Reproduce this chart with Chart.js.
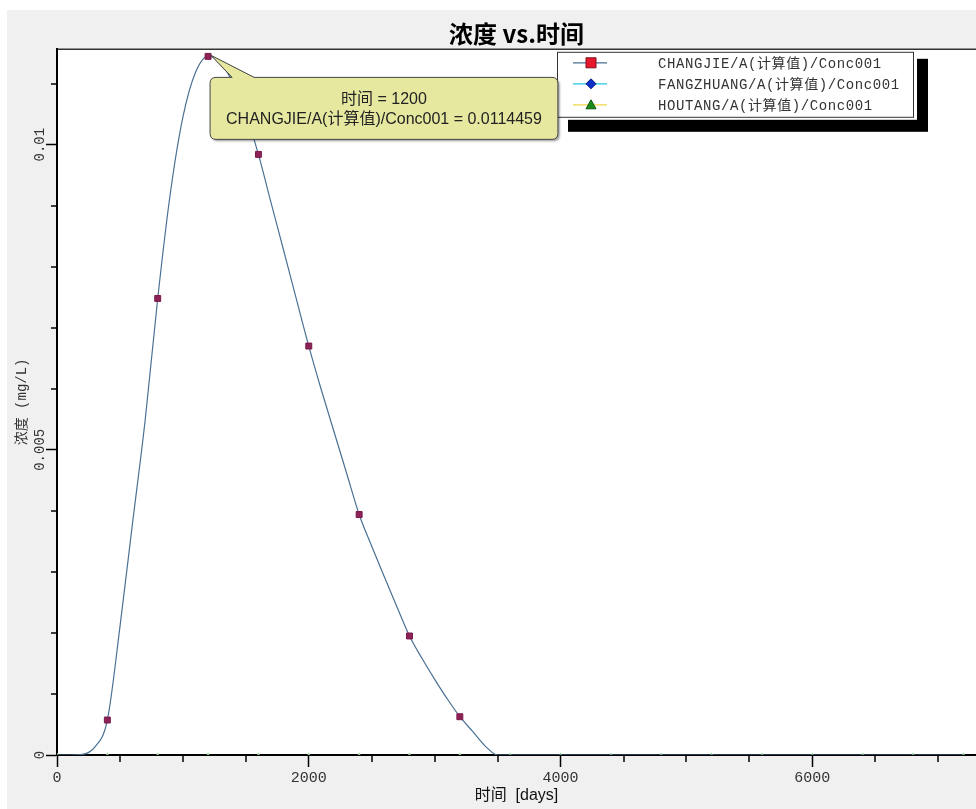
<!DOCTYPE html>
<html>
<head>
<meta charset="utf-8">
<title>浓度 vs.时间</title>
<script src="https://cdn.jsdelivr.net/npm/chart.js@4.4.1/dist/chart.umd.min.js"></script>
<style>
  html, body { margin: 0; padding: 0; background: #fff; overflow: hidden; }
  #wrap { position: absolute; left: 7px; top: 10px; width: 969px; height: 799px; background: #f0f0f0; }
</style>
</head>
<body>
<div id="wrap"><canvas id="chart" width="969" height="799"></canvas></div>
<script>
// CHANGJIE curve, days / mg/L
const changjieDays = [0, 100, 200, 300, 400, 500, 600, 700, 800, 900, 1000, 1100, 1200, 1300, 1400, 1500,
  1600, 1700, 1800, 1900, 2000, 2100, 2200, 2300, 2400, 2500, 2600, 2700, 2800, 2900, 3000, 3100,
  3200, 3300, 3400, 3500, 3600, 4000, 4400, 4800, 5200, 5600, 6000, 6400, 6800, 7200];
const changjieConc = [0, 0, 0.00001, 0.00013, 0.000573, 0.0021, 0.0038, 0.00548, 0.00748, 0.0092, 0.01045, 0.01118, 0.0114459, 0.01135, 0.0110, 0.0105,
  0.00984, 0.00905, 0.00827, 0.00748, 0.0067, 0.00598, 0.0053, 0.00462, 0.00394, 0.00342, 0.00292, 0.00243, 0.00195, 0.00158, 0.00124, 0.00092,
  0.000627, 0.00039, 0.00015, 0, 0, 0, 0, 0, 0, 0, 0, 0, 0, 0];

// the other two wells stay at zero
const otherDays = [0, 400, 800, 1200, 1600, 2000, 2400, 2800, 3200, 3600, 4000, 4400, 4800, 5200, 5600, 6000, 6400, 6800, 7200];
const fangzhuangConc = [0, 0, 0, 0, 0, 0, 0, 0, 0, 0, 0, 0, 0, 0, 0, 0, 0, 0, 0];
const houtangConc = [0, 0, 0, 0, 0, 0, 0, 0, 0, 0, 0, 0, 0, 0, 0, 0, 0, 0, 0];

const seriesNames = ['CHANGJIE/A(计算值)/Conc001', 'FANGZHUANG/A(计算值)/Conc001', 'HOUTANG/A(计算值)/Conc001'];

// axis ticks
const xMajorTicks = [0, 2000, 4000, 6000];
const xMinorTicks = [500, 1000, 1500, 2500, 3000, 3500, 4500, 5000, 5500, 6500, 7000];
const yMajorTicks = [0, 0.005, 0.01];
const yMinorTicks = [0.001, 0.002, 0.003, 0.004, 0.006, 0.007, 0.008, 0.009, 0.011];
const yTickLabels = ['0', '0.005', '0.01'];

// point shown in the callout (1200 days)
const calloutIndex = changjieDays.indexOf(1200);

const monoFont = '"Liberation Mono", "Noto Sans CJK SC", monospace';
const sansFont = '"Liberation Sans", "Noto Sans CJK SC", sans-serif';

// legend symbol styles
const legendStyles = [
  { line: '#4a7194', fill: '#e8182c', stroke: '#7a1020', shape: 'square' },
  { line: '#20c8e0', fill: '#1030c8', stroke: '#0a1c80', shape: 'diamond' },
  { line: '#f0d848', fill: '#1a8a1a', stroke: '#0f5a0f', shape: 'triangle' }
];

function drawSymbol(ctx, shape, cx, cy) {
  ctx.beginPath();
  if (shape === 'square') {
    ctx.rect(cx - 5, cy - 5, 10, 10);
  } else if (shape === 'diamond') {
    ctx.moveTo(cx, cy - 5); ctx.lineTo(cx + 5, cy); ctx.lineTo(cx, cy + 5); ctx.lineTo(cx - 5, cy); ctx.closePath();
  } else {
    ctx.moveTo(cx, cy - 5); ctx.lineTo(cx + 5, cy + 4); ctx.lineTo(cx - 5, cy + 4); ctx.closePath();
  }
  ctx.fill();
  ctx.stroke();
}

function drawLegend(chart) {
  const { ctx, chartArea: a } = chart;
  const left = a.left + 500, top = a.top + 3;
  ctx.fillStyle = '#000';
  ctx.fillRect(left + 11, top + 7, 360, 73);
  ctx.fillStyle = '#fff';
  ctx.fillRect(left, top, 360, 68);
  ctx.strokeStyle = '#333';
  ctx.lineWidth = 1;
  ctx.strokeRect(left + 0.5, top + 0.5, 356, 65);

  ctx.font = '14px ' + monoFont;
  ctx.letterSpacing = '0.6px';
  ctx.textAlign = 'left';
  ctx.textBaseline = 'middle';
  chart.data.datasets.forEach((ds, i) => {
    const st = legendStyles[i];
    const cy = top + 11 + i * 21;
    ctx.strokeStyle = st.line;
    ctx.lineWidth = 1.2;
    ctx.beginPath(); ctx.moveTo(left + 16, cy); ctx.lineTo(left + 50, cy); ctx.stroke();
    ctx.fillStyle = st.fill;
    ctx.strokeStyle = st.stroke;
    ctx.lineWidth = 1;
    drawSymbol(ctx, st.shape, left + 34, cy);
    ctx.fillStyle = '#333';
    ctx.fillText(ds.label, left + 101, cy + 1);
  });
  ctx.letterSpacing = '0px';
}

function drawCallout(chart) {
  const { ctx } = chart;
  const pt = chart.getDatasetMeta(0).data[calloutIndex];
  const px = pt.x, py = pt.y;
  const line1 = '时间 = ' + changjieDays[calloutIndex];
  const line2 = seriesNames[0] + ' = ' + changjieConc[calloutIndex];
  ctx.font = '16px ' + sansFont;
  const w = Math.max(ctx.measureText(line1).width, ctx.measureText(line2).width) + 32;
  const h = 62, r = 6;
  const bx = px + 2, by = py + 21;

  ctx.save();
  ctx.beginPath();
  ctx.moveTo(bx + r, by);
  ctx.lineTo(bx + 22, by);
  ctx.lineTo(px + 3, py - 1);
  ctx.lineTo(bx + 44, by);
  ctx.lineTo(bx + w - r, by);
  ctx.quadraticCurveTo(bx + w, by, bx + w, by + r);
  ctx.lineTo(bx + w, by + h - r);
  ctx.quadraticCurveTo(bx + w, by + h, bx + w - r, by + h);
  ctx.lineTo(bx + r, by + h);
  ctx.quadraticCurveTo(bx, by + h, bx, by + h - r);
  ctx.lineTo(bx, by + r);
  ctx.quadraticCurveTo(bx, by, bx + r, by);
  ctx.closePath();
  ctx.shadowColor = 'rgba(0,0,0,0.35)';
  ctx.shadowOffsetX = 2;
  ctx.shadowOffsetY = 2;
  ctx.shadowBlur = 2;
  ctx.fillStyle = '#e6e8a0';
  ctx.fill();
  ctx.shadowColor = 'transparent';
  ctx.strokeStyle = '#444';
  ctx.lineWidth = 1;
  ctx.stroke();
  ctx.restore();

  ctx.fillStyle = '#222';
  ctx.textAlign = 'center';
  ctx.textBaseline = 'middle';
  ctx.fillText(line1, bx + w / 2, by + 22);
  ctx.fillText(line2, bx + w / 2, by + 42);
}

const decorPlugin = {
  id: 'decor',
  beforeDraw(chart) {
    const { ctx, chartArea: a } = chart;
    ctx.save();
    ctx.fillStyle = '#fff';
    ctx.fillRect(a.left, a.top, a.right - a.left, a.bottom - a.top);
    ctx.strokeStyle = '#333';
    ctx.lineWidth = 1.5;
    ctx.beginPath(); ctx.moveTo(a.left, a.top + 0.5); ctx.lineTo(a.right, a.top + 0.5); ctx.stroke();
    ctx.restore();
  },
  afterDraw(chart) {
    const { ctx, chartArea: a, scales: { x, y } } = chart;
    ctx.save();
    // minor ticks
    ctx.strokeStyle = '#000';
    ctx.lineWidth = 1.5;
    ctx.beginPath();
    xMinorTicks.forEach(v => {
      const p = Math.round(x.getPixelForValue(v));
      ctx.moveTo(p, a.bottom); ctx.lineTo(p, a.bottom + 7);
    });
    yMinorTicks.forEach(v => {
      const p = Math.round(y.getPixelForValue(v));
      ctx.moveTo(a.left, p); ctx.lineTo(a.left - 6, p);
    });
    ctx.stroke();

    // rotated y tick labels
    ctx.fillStyle = '#333';
    ctx.font = '14px ' + monoFont;
    ctx.textAlign = 'center';
    ctx.textBaseline = 'middle';
    yMajorTicks.forEach((v, i) => {
      ctx.save();
      ctx.translate(a.left - 17, y.getPixelForValue(v));
      ctx.rotate(-Math.PI / 2);
      ctx.fillText(yTickLabels[i], 0, 0);
      ctx.restore();
    });

    drawLegend(chart);
    drawCallout(chart);
    ctx.restore();
  }
};

const ctx = document.getElementById('chart').getContext('2d');

new Chart(ctx, {
  type: 'line',
  data: {
    datasets: [
      {
        label: seriesNames[0],
        data: changjieDays.map((d, i) => ({ x: d, y: changjieConc[i] })),
        borderColor: '#4a7194',
        borderWidth: 1.2,
        cubicInterpolationMode: 'monotone',
        pointStyle: 'rect',
        pointRadius: c => (c.raw && c.raw.x % 400 === 0 && c.raw.y > 0) ? 4.2 : 0,
        pointBackgroundColor: '#8d2257',
        pointBorderColor: '#7a1a4c',
        pointBorderWidth: 1
      },
      {
        label: seriesNames[1],
        data: otherDays.map((d, i) => ({ x: d, y: fangzhuangConc[i] })),
        showLine: false,
        pointRadius: 0
      },
      {
        label: seriesNames[2],
        data: otherDays.map((d, i) => ({ x: d, y: houtangConc[i] })),
        showLine: false,
        pointStyle: 'triangle',
        pointRadius: 2.6,
        pointBackgroundColor: '#8fcf8f',
        pointBorderWidth: 0
      }
    ]
  },
  options: {
    responsive: false,
    devicePixelRatio: 1,
    animation: false,
    events: [],
    layout: { padding: 0, autoPadding: false },
    plugins: {
      legend: { display: false },
      tooltip: { enabled: false },
      title: {
        display: true,
        text: '浓度 vs.时间',
        fullSize: false,
        color: '#000',
        font: { family: '"Noto Sans CJK SC", sans-serif', size: 24, weight: 'bold' },
        padding: { top: 9, bottom: 1 }
      }
    },
    scales: {
      x: {
        type: 'linear',
        min: 0,
        max: 7300,
        z: 1,
        afterFit: s => { s.height = 54; },
        afterBuildTicks: s => { s.ticks = xMajorTicks.map(v => ({ value: v })); },
        border: { color: '#000', width: 2 },
        grid: { drawOnChartArea: false, tickLength: 12, tickColor: '#000', tickWidth: 1.5 },
        ticks: {
          color: '#333',
          font: { family: monoFont, size: 15 },
          padding: 2,
          maxRotation: 0,
          autoSkip: false,
          callback: v => String(v)
        },
        title: {
          display: true,
          text: '时间  [days]',
          color: '#111',
          font: { family: sansFont, size: 16 },
          padding: { top: 0, bottom: 4 }
        }
      },
      y: {
        type: 'linear',
        min: 0,
        max: 0.01157,
        afterFit: s => { s.width = 50; },
        afterBuildTicks: s => { s.ticks = yMajorTicks.map(v => ({ value: v })); },
        border: { color: '#000', width: 2 },
        grid: { drawOnChartArea: false, tickLength: 11, tickColor: '#000', tickWidth: 1.5 },
        ticks: { display: false },
        title: {
          display: true,
          text: '浓度 (mg/L)',
          color: '#333',
          font: { family: monoFont, size: 14 },
          padding: { top: 7, bottom: 0 }
        }
      }
    }
  },
  plugins: [decorPlugin]
});
</script>
</body>
</html>
